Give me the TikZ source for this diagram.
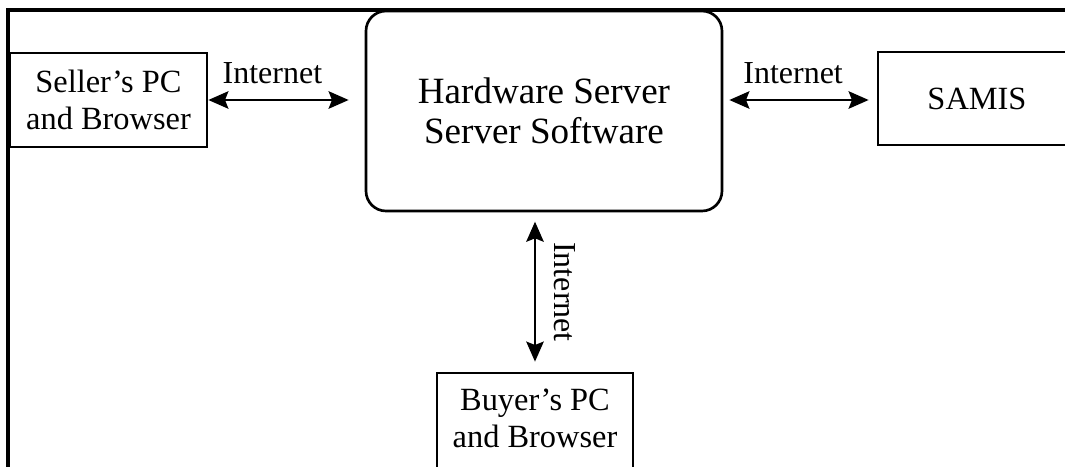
\documentclass[tikz,border=0pt]{standalone}
\usepackage{fontspec}
\setmainfont{Liberation Serif}
\usetikzlibrary{arrows.meta}
\begin{document}
\begin{tikzpicture}[x=0.75pt,y=-0.75pt,
        box/.style={draw,line width=2pt,align=center,font=\fontsize{24.3}{28}\selectfont},
        link/.style={{Stealth[length=15pt,width=13pt,inset=2.5pt]}-{Stealth[length=15pt,width=13pt,inset=2.5pt]},line width=2pt},
        tag/.style={font=\fontsize{24}{28}\selectfont,anchor=south,inner xsep=0pt}]
    \useasboundingbox (0,0) rectangle (1065,467);
    \draw[line width=2.4pt] (8,490) |- (1090,10);
    \node[box,minimum width=147.75pt,minimum height=70.5pt] (seller) at (108.5,100) {Seller’s PC\\and Browser};
    \node[box,rounded corners=15pt,minimum width=267pt,minimum height=150pt,font=\fontsize{27.8}{30}\selectfont] (server) at (544,111) {Hardware Server\\Server Software};
    \node[box,minimum width=148.5pt,minimum height=69.75pt] (samis) at (977,98.5) {SAMIS};
    \node[box,minimum width=147pt,minimum height=78.75pt] (buyer) at (535,425.5) {Buyer’s PC\\and Browser\rule[-10.5pt]{0pt}{0pt}};
    \draw[link,shorten >=12pt] (seller.east) -- (seller.east -| server.west) node[tag,pos=0.41,inner ysep=11pt] {Internet};
    \draw[link,shorten <=4.5pt,shorten >=6pt] (server.east |- seller.east) -- (samis.west |- seller.east) node[tag,pos=0.455,inner ysep=11pt] {Internet};
    \draw[link,shorten <=7pt,shorten >=7.5pt] (buyer.north |- server.south) -- (buyer.north) node[tag,midway,rotate=-90,inner ysep=13.5pt] {Internet};
\end{tikzpicture}
\end{document}
